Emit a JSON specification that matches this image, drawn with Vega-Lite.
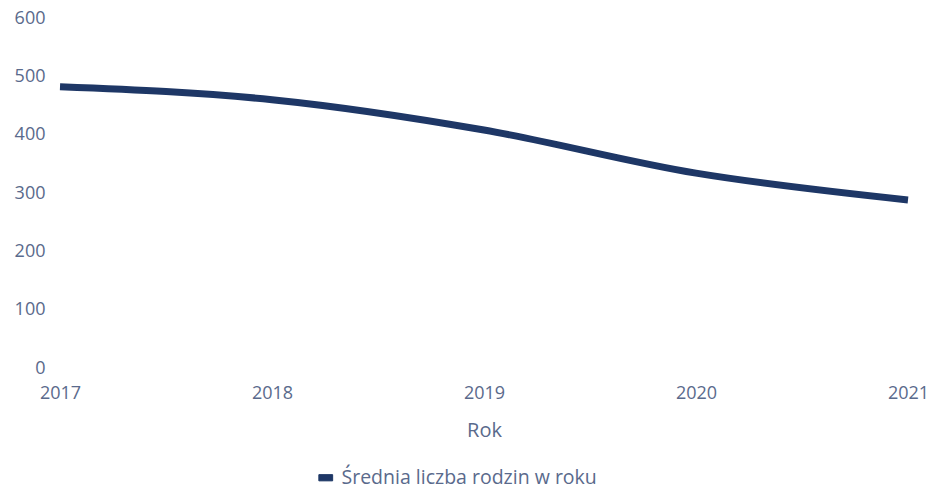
{
  "$schema": "https://vega.github.io/schema/vega-lite/v6.json",
  "width": 848,
  "height": 350,
  "autosize": {"type": "none"},
  "padding": {"left": 60, "top": 18, "right": 24, "bottom": 122},
  "background": "white",
  "config": {
    "view": {"stroke": null},
    "font": "Open Sans",
    "axis": {"labelColor": "#5a6a8c", "titleColor": "#5a6a8c", "grid": false, "domain": false, "ticks": false},
    "legend": {"labelColor": "#5a6a8c"}
  },
  "data": {
    "values": [
      {"Rok": "2017", "value": 482, "series": "Średnia liczba rodzin w roku"},
      {"Rok": "2018", "value": 460, "series": "Średnia liczba rodzin w roku"},
      {"Rok": "2019", "value": 408, "series": "Średnia liczba rodzin w roku"},
      {"Rok": "2020", "value": 334, "series": "Średnia liczba rodzin w roku"},
      {"Rok": "2021", "value": 288, "series": "Średnia liczba rodzin w roku"}
    ]
  },
  "mark": {"type": "line", "strokeWidth": 7, "interpolate": "monotone", "strokeCap": "butt"},
  "encoding": {
    "x": {
      "field": "Rok", "type": "ordinal",
      "scale": {"type": "point", "padding": 0},
      "axis": {"labelAngle": 0, "labelFontSize": 18, "labelPadding": 16, "titleFontSize": 20, "titleFontWeight": "normal", "titlePadding": 18}
    },
    "y": {
      "field": "value", "type": "quantitative",
      "scale": {"domain": [0, 600]},
      "axis": {"title": null, "values": [0, 100, 200, 300, 400, 500, 600], "labelFontSize": 18, "labelPadding": 15}
    },
    "color": {
      "field": "series", "type": "nominal",
      "scale": {"range": ["#1e3766"]},
      "legend": {
        "title": null, "orient": "none", "legendX": 256, "legendY": 450, "direction": "horizontal",
        "labelFontSize": 19.5, "labelLimit": 500, "labelOffset": 6, "symbolType": "M-1,-0.45H1V0.45H-1Z", "symbolSize": 190,
        "symbolFillColor": "#1e3766", "symbolStrokeColor": "#0d1a33", "symbolStrokeWidth": 1
      }
    }
  }
}
